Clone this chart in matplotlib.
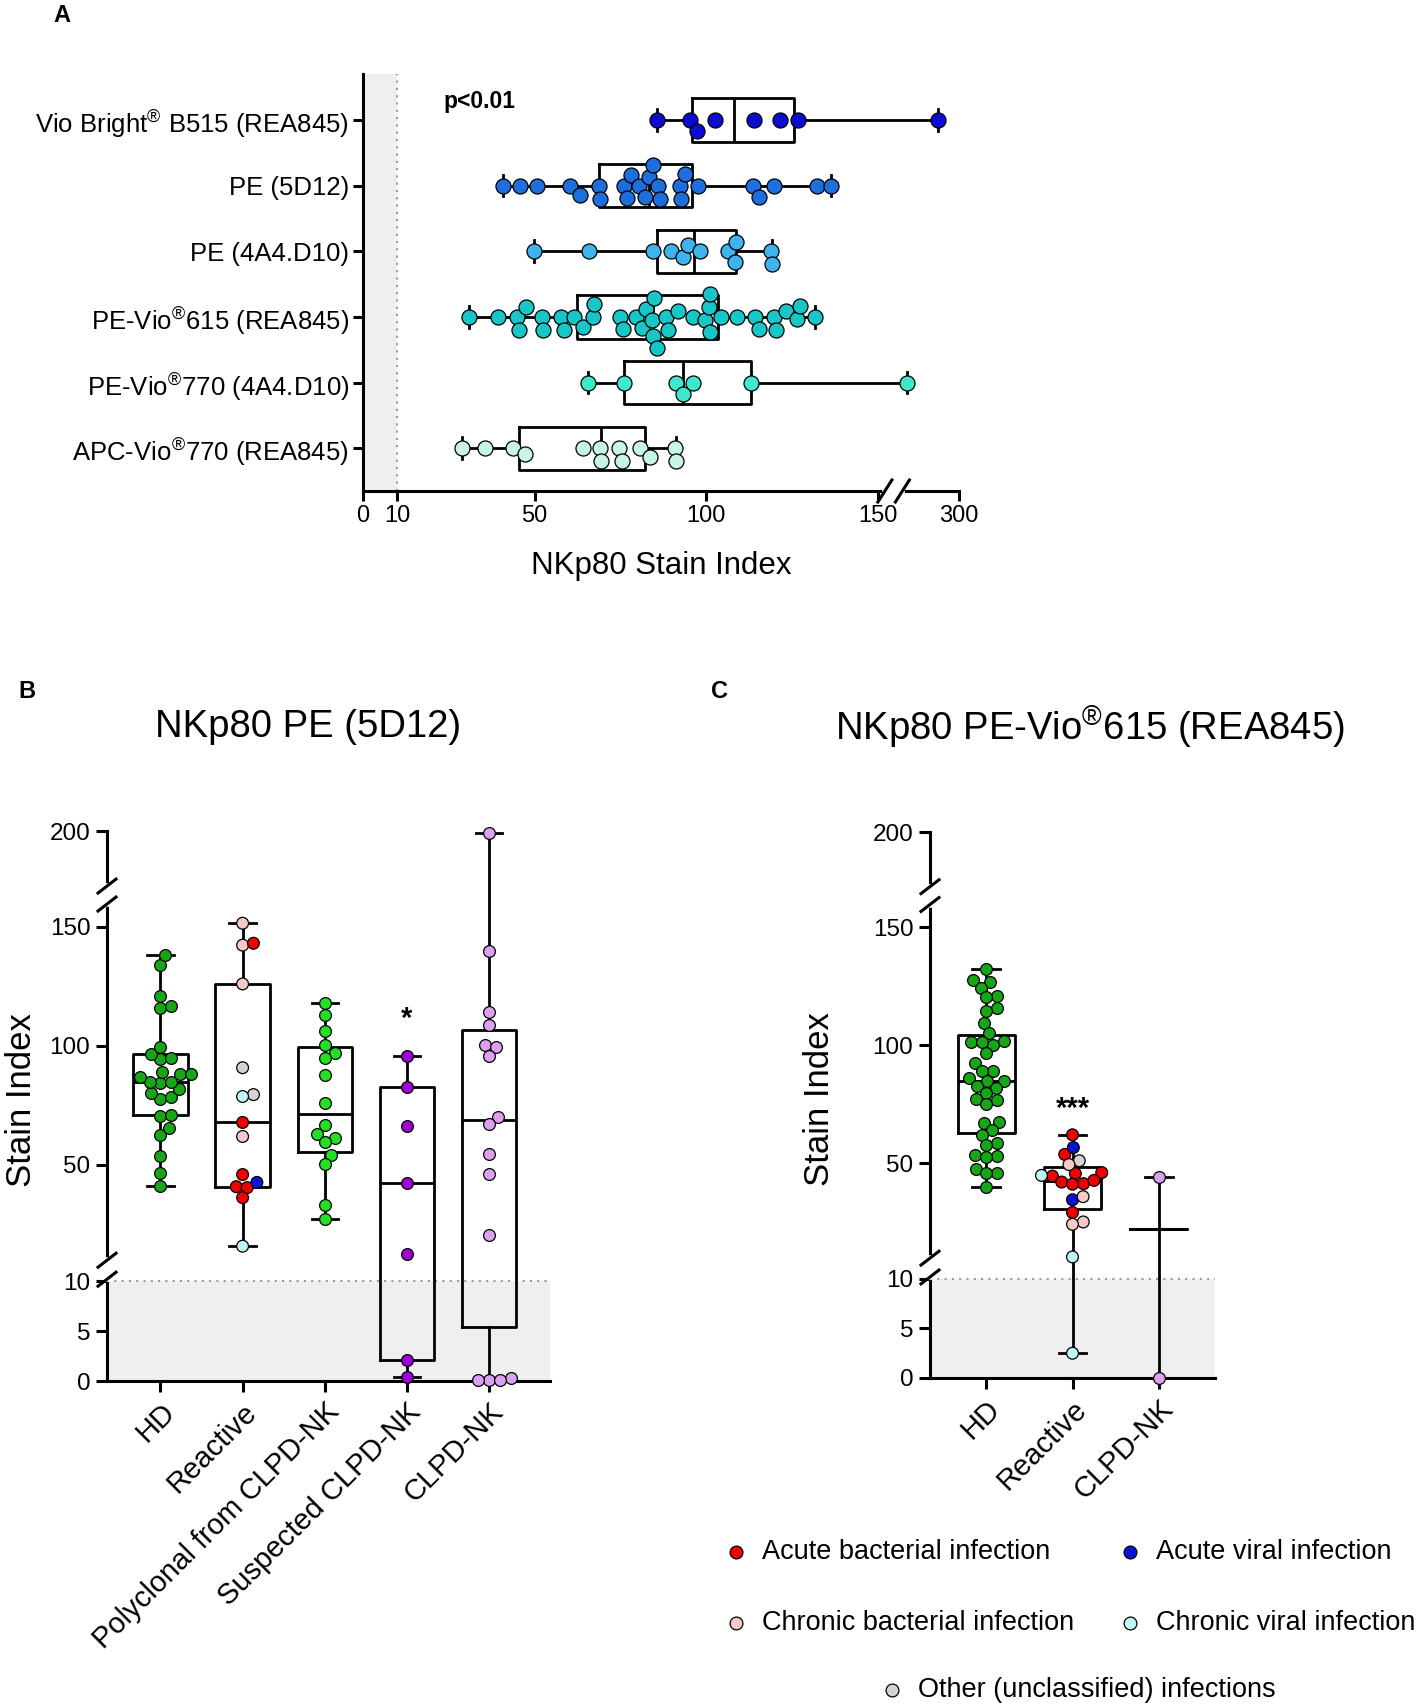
import numpy as np
import matplotlib.pyplot as plt

plt.rcParams['font.family'] = ['Liberation Sans', 'DejaVu Sans']
plt.rcParams['axes.linewidth'] = 2.2

# ---------------- panel A data (NKp80 stain index by conjugate)
a_labels = [r'Vio Bright$^{\mathregular{®}}$ B515 (REA845)', 'PE (5D12)', 'PE (4A4.D10)',
            r'PE-Vio$^{\mathregular{®}}$615 (REA845)', r'PE-Vio$^{\mathregular{®}}$770 (4A4.D10)',
            r'APC-Vio$^{\mathregular{®}}$770 (REA845)']
a_colors = ['#0b0bd4', '#1c6fdc', '#3db4ee', '#17c6c6', '#3ee8cc', '#c9f5e4']
vio_b515 = [85.6, 95.4, 97.3, 102.6, 113.9, 121.4, 126.9, 261]
pe_5d12 = [40.8, 45.9, 50.7, 60.4, 63.1, 68.7, 69.1, 76.0, 76.9, 78.0, 80.4, 82.2, 83.3,
           84.5, 86.1, 86.7, 92.5, 92.7, 93.9, 97.6, 113.6, 115.4, 119.7, 132.4, 136.5]
pe_4a4 = [49.8, 66.0, 84.5, 89.8, 93.2, 94.7, 98.3, 106.3, 108.3, 108.8, 118.8, 119.2]
pe_vio615 = [30.8, 39.3, 45.0, 45.4, 47.4, 52.3, 52.6, 57.8, 58.7, 61.6, 64.1, 67.0, 67.2,
             74.8, 75.9, 79.6, 81.4, 82.5, 84.3, 84.5, 84.7, 85.6, 88.4, 88.8, 91.8, 96.1,
             99.8, 100.8, 101.0, 101.2, 104.4, 109.1, 114.1, 115.3, 119.9, 120.4, 123.3,
             126.4, 127.4, 131.6]
pe_vio770 = [65.5, 76.2, 91.3, 93.2, 96.3, 113.1, 205]
apc_vio770 = [28.9, 35.6, 43.7, 47.1, 64.1, 69.2, 69.4, 74.6, 75.5, 80.6, 83.5, 90.8, 91.1]
a_values = [vio_b515, pe_5d12, pe_4a4, pe_vio615, pe_vio770, apc_vio770]
a_xticks = [0, 10, 50, 100, 150, 300]

# ---------------- infection types (legend)
inf_names = ['Acute bacterial infection', 'Acute viral infection',
             'Chronic bacterial infection', 'Chronic viral infection',
             'Other (unclassified) infections']
inf_colors = ['#f00000', '#0a14d6', '#f7c8c8', '#bff5f5', '#d4d4d4']

# ---------------- panel B data (PE 5D12)
b_groups = ['HD', 'Reactive', 'Polyclonal from CLPD-NK', 'Suspected CLPD-NK', 'CLPD-NK']
b_hd = [41.3, 46.6, 53.6, 62.7, 65.5, 70.6, 70.8, 77.8, 78.7, 80.2, 81.8, 84.2, 84.8, 85.0,
        87.1, 88.0, 88.3, 88.8, 94.6, 94.8, 96.6, 99.7, 115.8, 116.8, 121.1, 134.0, 138.2]
b_reactive = [151.5, 142.3, 126.0, 61.9, 143.1, 67.8, 45.9, 40.8, 40.4, 36.2, 90.8, 79.5,
              78.7, 15.8, 42.6]
b_reactive_type = [2, 2, 2, 2, 0, 0, 0, 0, 0, 0, 4, 4, 3, 3, 1]
b_polyclonal = [118.1, 113.1, 106.4, 100.3, 97.0, 94.9, 87.9, 76.1, 66.9, 63.1, 61.1, 59.7,
                54.2, 50.5, 32.9, 27.3]
b_suspected = [95.8, 82.9, 66.1, 42.4, 12.4, 2.08, 0.4]
b_clpd = [199, 139.8, 114.3, 108.9, 100.3, 99.5, 95.8, 70.1, 67.3, 54.7, 46.3, 20.6,
          0.1, 0.3, 0.1, 0.1]
b_colors = ['#17a617', None, '#22e022', '#9b00d6', '#dda0f0']

# ---------------- panel C data (PE-Vio615 REA845)
c_groups = ['HD', 'Reactive', 'CLPD-NK']
c_hd = [132.2, 127.5, 126.9, 124.3, 121.0, 120.3, 115.7, 114.3, 109.3, 105.0, 101.8, 101.5,
        101.2, 100.3, 96.7, 92.4, 89.0, 88.9, 86.0, 85.0, 84.8, 82.8, 81.8, 80.0, 77.4,
        76.7, 75.3, 67.6, 67.3, 64.2, 62.2, 58.8, 57.9, 53.5, 53.2, 52.9, 47.8, 46.1,
        45.8, 39.8]
c_reactive = [62.1, 53.8, 46.1, 45.7, 44.6, 41.4, 42.1, 41.2, 42.8, 29.2, 56.7, 34.6, 51.1,
              49.5, 35.9, 25.2, 24.2, 44.9, 10.4, 2.5]
c_reactive_type = [0] * 10 + [1, 1] + [4] + [2] * 4 + [3] * 3
c_clpd = [44.4, 0.0]
c_colors = ['#17a617', None, '#dda0f0']

bc_yticks = [0, 5, 10, 50, 100, 150, 200]


# broken axes as piecewise linear scales
def a_fwd(x):
    x = np.asarray(x, float)
    return np.where(x <= 150, x, 150 + (x - 150) * 0.158)


def a_inv(u):
    u = np.asarray(u, float)
    return np.where(u <= 150, u, 150 + (u - 150) / 0.158)


y_knots = [0, 10, 10.05, 160, 200]
u_knots = [0, 100, 121.4, 479.0, 551.2]


def bc_fwd(y):
    return np.interp(np.asarray(y, float), y_knots, u_knots)


def bc_inv(u):
    return np.interp(np.asarray(u, float), u_knots, y_knots)


def box_stats(vals):
    v = np.asarray(vals, float)
    med = np.median(v)
    if len(v) < 3:
        q1 = q3 = med
    else:
        q1, q3 = np.percentile(v, [25, 75], method='weibull')
    return dict(med=med, q1=q1, q3=q3, whislo=v.min(), whishi=v.max(), fliers=[])


def swarm(pix, d):
    # simple beeswarm in pixel space, returns perpendicular offsets
    offs = np.zeros(len(pix))
    placed = []
    for i in np.argsort(pix, kind='stable'):
        v = pix[i]
        near = [(pv, po) for pv, po in placed if abs(pv - v) < d]
        cands = [0.0]
        for pv, po in near:
            dy = np.sqrt(d * d - (pv - v) ** 2)
            cands += [po + dy, po - dy]
        cands.sort(key=abs)
        for c in cands:
            if all((pv - v) ** 2 + (po - c) ** 2 >= d * d - 1e-6 for pv, po in near):
                break
        offs[i] = c
        placed.append((v, c))
    return offs


W, H = 1417, 1705
fig = plt.figure(figsize=(W / 100, H / 100), dpi=100)
box_kw = dict(boxprops=dict(lw=2, color='k'), whiskerprops=dict(lw=2, color='k'),
              capprops=dict(lw=2, color='k'), medianprops=dict(lw=2, color='k'))

# ================= panel A
axA = fig.add_axes([363 / W, 1 - 491 / H, 596 / W, 417 / H])
axA.set_xscale('function', functions=(a_fwd, a_inv))
axA.set_xlim(0, 300)
axA.set_ylim(5.65, -0.7)
axA.axvspan(0, 10, color='#efefef', lw=0, zorder=0)
axA.axvline(10, color='#9a9a9a', ls=(0, (1, 2.5)), lw=1.5, zorder=1)
axA.bxp([box_stats(v) for v in a_values], positions=range(6), widths=0.66,
        orientation='horizontal', showfliers=False, capwidths=0.33, zorder=2, **box_kw)
py = abs(axA.transData.transform((0, 1))[1] - axA.transData.transform((0, 0))[1])
for i, (vals, col) in enumerate(zip(a_values, a_colors)):
    pix = axA.transData.transform(np.column_stack([vals, np.full(len(vals), i)]))[:, 0]
    off = swarm(pix, 13.0) / py
    axA.scatter(vals, i + off, s=117, color=col, edgecolor='k', lw=0.9, zorder=3, clip_on=False)
axA.spines[['top', 'right']].set_visible(False)
axA.set_xticks(a_xticks, [str(t) for t in a_xticks], fontsize=17)
axA.set_yticks(range(6), a_labels, fontsize=18.5)
axA.tick_params(axis='both', length=7, width=2.2, pad=3)
axA.minorticks_off()
axA.set_xlabel('NKp80 Stain Index', fontsize=22.5)
axA.xaxis.set_label_coords(0.5, -0.18)
axA.xaxis.label.set_va('center')
axA.text(23.5, -0.28, 'p<0.01', fontsize=16.5, fontweight='bold', va='center', ha='left')
# axis break
xb = [152.1 / 173.7, 157.2 / 173.7]
axA.plot(xb, [0, 0], transform=axA.transAxes, color='white', lw=4, clip_on=False, zorder=5)
for xf in xb:
    axA.plot([xf - 7 / 596, xf + 7 / 596], [-11 / 417, 11 / 417], transform=axA.transAxes,
             color='k', lw=2.2, clip_on=False, zorder=6)


def panel_bc(ax, groups, values, colors, rtypes):
    ax.set_yscale('function', functions=(bc_fwd, bc_inv))
    ax.set_ylim(0, 200)
    ax.axhspan(0, 10, color='#efefef', lw=0, zorder=0)
    ax.axhline(10, color='#9a9a9a', ls=(0, (1, 2.5)), lw=1.5, zorder=1)
    ax.bxp([box_stats(v) for v in values], positions=range(len(values)), widths=0.66,
           showfliers=False, capwidths=0.32, zorder=2, **box_kw)
    px = abs(ax.transData.transform((1, 0))[0] - ax.transData.transform((0, 0))[0])
    for i, vals in enumerate(values):
        pix = ax.transData.transform(np.column_stack([np.full(len(vals), i), vals]))[:, 1]
        off = swarm(pix, 11.0) / px
        if colors[i] is None:
            cols = [inf_colors[t] for t in rtypes]
        else:
            cols = colors[i]
        ax.scatter(i + off, vals, s=72, color=cols, edgecolor='k', lw=0.9, zorder=3,
                   clip_on=False)
    ax.spines[['top', 'right']].set_visible(False)
    ax.set_yticks(bc_yticks, [str(t) for t in bc_yticks], fontsize=17.5)
    ax.minorticks_off()
    ax.set_xticks(range(len(groups)), groups, fontsize=21, rotation=45, ha='right',
                  va='top', rotation_mode='anchor')
    ax.tick_params(axis='both', length=8, width=2.2, pad=4)
    ax.set_ylabel('Stain Index', fontsize=25)
    ax.yaxis.label.set(ha='center', va='center', rotation_mode='default')
    # axis breaks
    umax = u_knots[-1]
    wpx = ax.get_position().width * W
    for lo, hi in [(102, 121), (478, 496)]:
        ax.plot([0, 0], [lo / umax, hi / umax], transform=ax.transAxes, color='white',
                lw=4, clip_on=False, zorder=5)
        for u in (lo, hi):
            ax.plot([-9 / wpx, 9 / wpx], [(u - 7) / umax, (u + 7) / umax],
                    transform=ax.transAxes, color='k', lw=2.2, clip_on=False, zorder=6)


# ================= panel B
axB = fig.add_axes([107 / W, 1 - 1381 / H, 443 / W, 550 / H])
axB.set_xlim(-0.65, 4.74)
panel_bc(axB, b_groups, [b_hd, b_reactive, b_polyclonal, b_suspected, b_clpd],
         b_colors, b_reactive_type)
axB.yaxis.set_label_coords(-0.192, 0.51)
axB.text(3, 108, '*', fontsize=21, fontweight='bold', ha='center', va='baseline')

# ================= panel C
axC = fig.add_axes([930 / W, 1 - 1378 / H, 285 / W, 546 / H])
axC.set_xlim(-0.65, 2.65)
panel_bc(axC, c_groups, [c_hd, c_reactive, c_clpd], c_colors, c_reactive_type)
axC.yaxis.set_label_coords(-0.386, 0.51)
axC.text(1, 69.6, '***', fontsize=21, fontweight='bold', ha='center', va='baseline')

# titles and panel letters
fig.text(308 / W, 1 - 727 / H, 'NKp80 PE (5D12)', fontsize=27.5, ha='center', va='center')
fig.text(1090 / W, 1 - 727 / H, r'NKp80 PE-Vio$^{\mathregular{®}}$615 (REA845)', fontsize=27.5,
         ha='center', va='center')
for letter, x, y in [('A', 62, 16), ('B', 27, 692), ('C', 720, 692)]:
    fig.text(x / W, 1 - y / H, letter, fontsize=17, fontweight='bold', ha='center', va='center')

# legend
leg = fig.add_axes([0, 0, 1, 1])
leg.set_xlim(0, W)
leg.set_ylim(H, 0)
leg.axis('off')
leg_pos = [(736, 1552), (1130, 1552), (736, 1623), (1130, 1623), (892, 1690)]
for (x, y), name, col in zip(leg_pos, inf_names, inf_colors):
    leg.scatter([x], [y], s=85, color=col, edgecolor='k', lw=0.9)
    leg.text(x + 26, y, name, fontsize=19.5, va='center', ha='left')

fig.savefig('out.png', dpi=100)
